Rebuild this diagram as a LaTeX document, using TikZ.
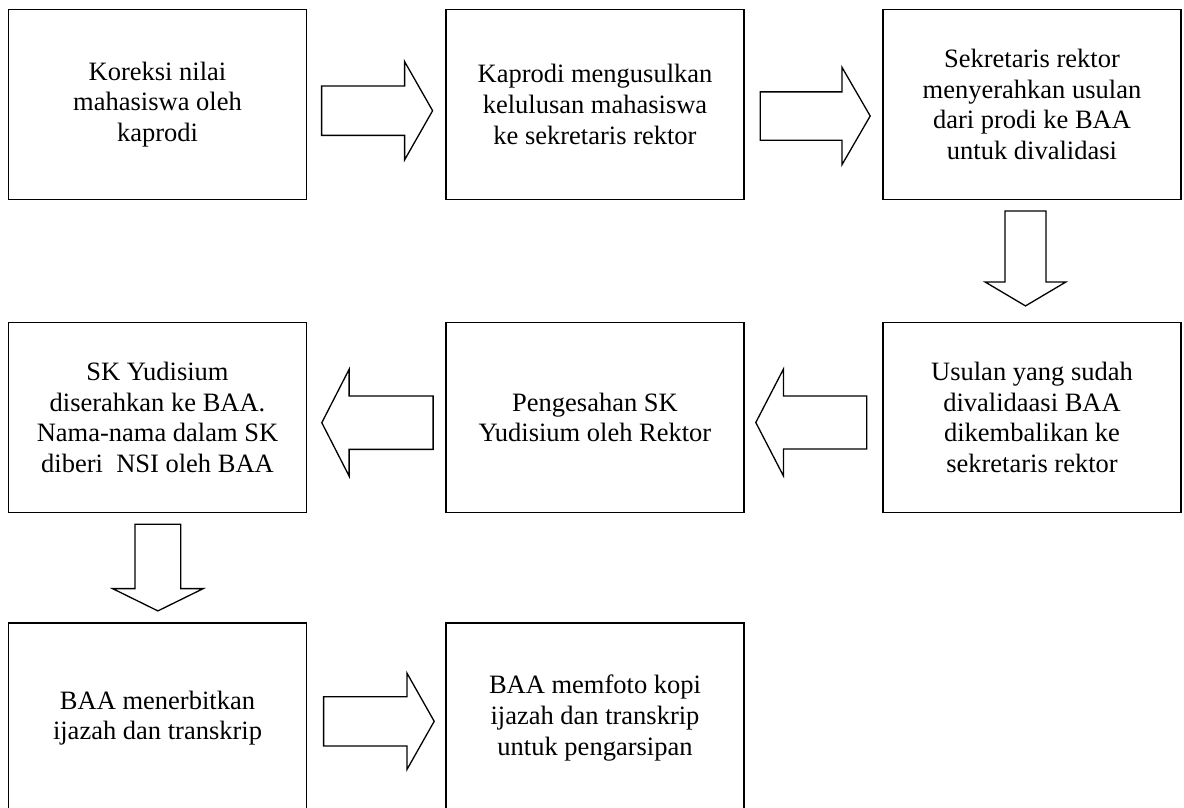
\documentclass[tikz,border=0pt]{standalone}
\usepackage{fontspec}
\setmainfont{Liberation Serif}
\usetikzlibrary{calc}

\tikzset{
  stepbox/.style={draw=black, line width=1.8pt, fill=white,
    minimum width=298pt, minimum height=190pt, inner sep=0pt,
    align=center, font={\fontsize{26.5}{30.6}\selectfont}},
  blockline/.style={draw=black, line width=1.3pt, fill=white, line join=miter}
}

% Block arrow: tail point, direction angle, length, shaft width, head width, head length
\newcommand\blockarrow[6]{%
  \begin{scope}[shift={#1}, rotate=#2]
    \draw[blockline] (0,-#4/2) -- ({#3-#6},-#4/2) -- ({#3-#6},-#5/2) -- (#3,0)
      -- ({#3-#6},#5/2) -- ({#3-#6},#4/2) -- (0,#4/2) -- cycle;
  \end{scope}}

\begin{document}
\begin{tikzpicture}[x=1pt, y=1pt]
  \useasboundingbox[fill=white] (0,0) rectangle (1184,-807);

  % Row 1
  \node[stepbox] (b1) at (157.5,-104.5) {Koreksi nilai\\mahasiswa oleh\\kaprodi};
  \node[stepbox] (b2) at (595,-104.5) {Kaprodi mengusulkan\\kelulusan mahasiswa\\ke sekretaris rektor};
  \node[stepbox] (b3) at (1032,-104.5) {Sekretaris rektor\\menyerahkan usulan\\dari prodi ke BAA\\untuk divalidasi};

  % Row 2
  \node[stepbox] (b4) at (157.5,-417.5) {SK Yudisium\\diserahkan ke BAA.\\Nama-nama dalam SK\\diberi \ NSI oleh BAA};
  \node[stepbox] (b5) at (595,-417.5) {Pengesahan SK\\Yudisium oleh Rektor};
  \node[stepbox] (b6) at (1032,-417.5) {Usulan yang sudah\\divalidaasi BAA\\dikembalikan ke\\sekretaris rektor};

  % Row 3 (boxes run past the lower edge)
  \node[stepbox] (b7) at (157.5,-718) {BAA menerbitkan\\ijazah dan transkrip};
  \node[stepbox] (b8) at (595,-718) {BAA memfoto kopi\\ijazah dan transkrip\\untuk pengarsipan};

  % Block arrows between the steps
  \blockarrow{($(b1.east)+(14.2,-6.2)$)}{0}{111}{49.3}{98.3}{28}
  \blockarrow{($(b2.east)+(15.3,-11.5)$)}{0}{110}{48.3}{97.7}{28.3}
  \blockarrow{($(b3.south)+(-6.5,-10.5)$)}{-90}{95}{41}{81}{24}
  \blockarrow{($(b6.west)+(-15.3,-5)$)}{180}{111}{53}{106.7}{27.6}
  \blockarrow{($(b5.west)+(-12,-5.2)$)}{180}{111.3}{53.3}{106.7}{27.3}
  \blockarrow{($(b4.south)+(0.4,-10.8)$)}{-90}{86.7}{45.7}{90.6}{22.3}
  \blockarrow{($(b7.east)+(16.2,-3.3)$)}{0}{110.6}{49.3}{96.6}{27.3}
\end{tikzpicture}
\end{document}
